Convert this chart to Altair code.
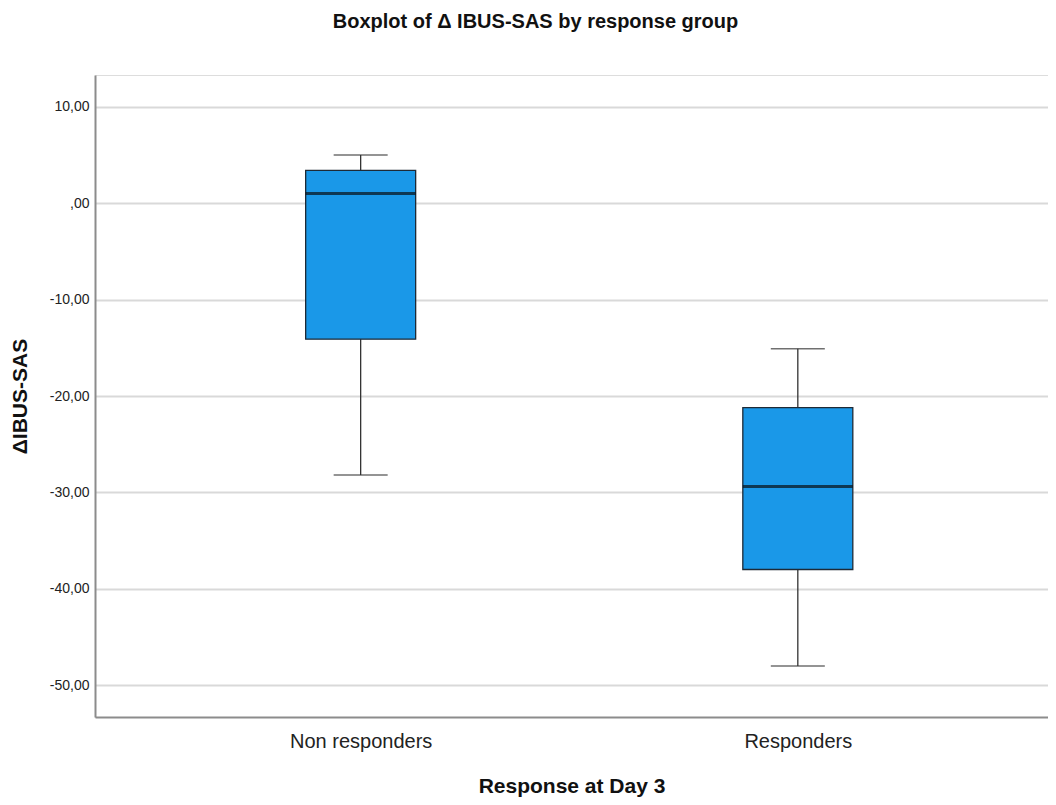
import altair as alt
import pandas as pd

groups = ["Non responders", "Responders"]
lower = [-28.2, -48.0]
q1 = [-14.1, -38.0]
median = [1.0, -29.4]
q3 = [3.4, -21.2]
upper = [5.0, -15.1]

df = pd.DataFrame({"group": groups, "lower": lower, "q1": q1,
                   "median": median, "q3": q3, "upper": upper})

FONT = "Liberation Sans"
xenc = alt.X("group:N", sort=groups,
             scale=alt.Scale(type="point", padding=0.59, align=0.515),
             axis=alt.Axis(title="Response at Day 3", labelAngle=0, ticks=False,
                           labelFontSize=20, labelFont=FONT, labelColor="#222",
                           labelPadding=14, titleFontSize=21, titleFont=FONT,
                           titleFontWeight="bold", titleColor="#111", titlePadding=24,
                           domainColor="#8c8c8c", domainWidth=2, grid=False))

yscale = alt.Scale(domain=[-53.3, 13.3], nice=False, zero=False)
yenc = alt.Y("lower:Q", scale=yscale,
             axis=alt.Axis(title="ΔIBUS-SAS", values=[-50, -40, -30, -20, -10, 0, 10],
                           labelExpr="datum.value == 0 ? ',00' : replace(replace(format(datum.value, '.2f'), '.', ','), '\u2212', '-')",
                           ticks=False, labelPadding=6, labelFontSize=14, labelFont=FONT,
                           labelColor="#222", titleFontSize=21, titleFont=FONT,
                           titleFontWeight="bold", titleColor="#111", titlePadding=19,
                           domainColor="#8c8c8c", domainWidth=2,
                           grid=True, gridColor="#d9d9d9", gridWidth=2))

base = alt.Chart(df)

whisk = base.mark_rule(color="#333", strokeWidth=1.3).encode(x=xenc, y=yenc, y2="upper:Q")
box = base.mark_bar(size=110, color="#1a98e8", stroke="#1e2a36", strokeWidth=1.3).encode(
    x=xenc, y=alt.Y("q1:Q", scale=yscale), y2="q3:Q")
med = base.mark_tick(size=110, thickness=3, color="#0a0f14").encode(
    x=xenc, y=alt.Y("median:Q", scale=yscale))
capl = base.mark_tick(size=54, thickness=1.5, color="#333").encode(
    x=xenc, y=alt.Y("lower:Q", scale=yscale))
capu = base.mark_tick(size=54, thickness=1.5, color="#333").encode(
    x=xenc, y=alt.Y("upper:Q", scale=yscale))

chart = alt.layer(whisk, capl, capu, box, med).properties(
    width=953, height=642,
    autosize=alt.AutoSizeParams(type="none"),
    padding={"left": 87, "top": 67, "right": 0, "bottom": 80},
    title=alt.TitleParams("Boxplot of Δ IBUS-SAS by response group", fontSize=20,
                          font=FONT, fontWeight="bold", color="#111",
                          offset=43, dx=-36),
).configure_view(stroke=None).configure(background="white")

chart.save("out.html", embed_options={"renderer": "svg", "actions": False})
